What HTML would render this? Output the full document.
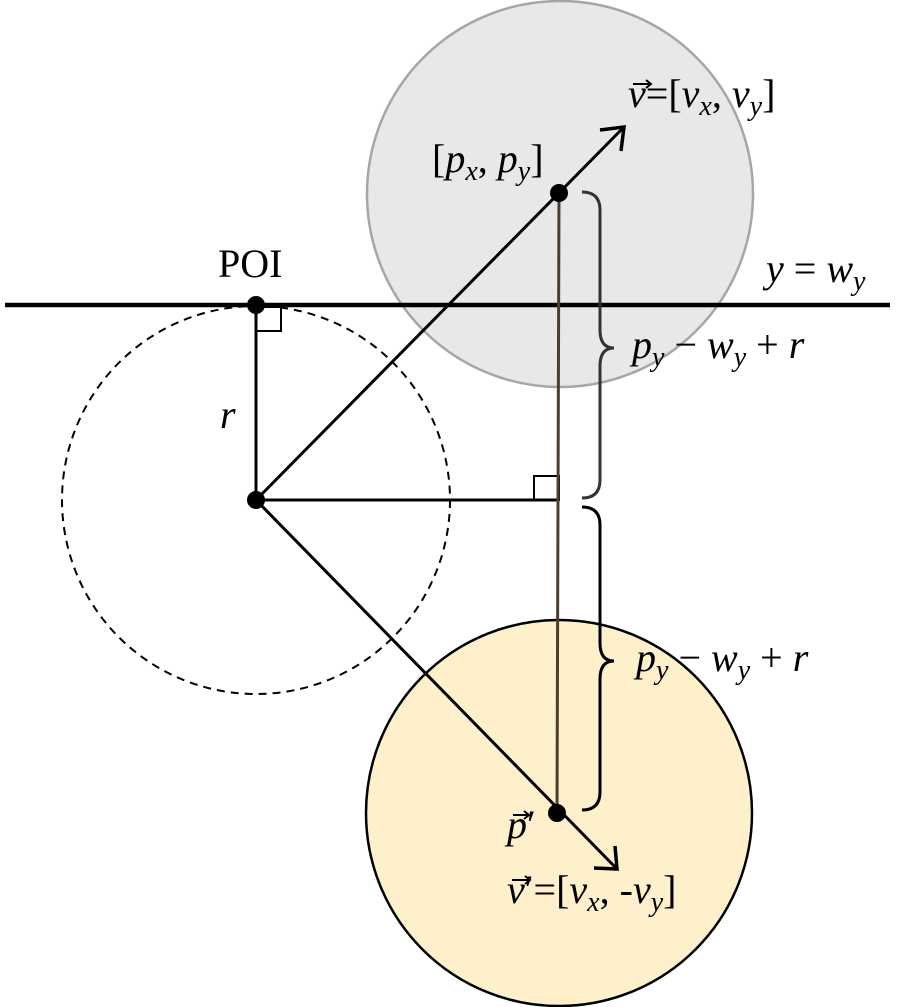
<!DOCTYPE html>
<html><head><meta charset="utf-8"><style>
html,body{margin:0;padding:0;background:#fff}
svg{display:block}
text{font-family:"Liberation Serif",serif;font-size:40px;fill:#000}
.i{font-style:italic}
</style></head><body>
<svg width="901" height="1007" viewBox="0 0 901 1007" xmlns="http://www.w3.org/2000/svg">
<circle cx="560" cy="194" r="193" fill="#e8e8e8" stroke="#a6a6a6" stroke-width="2.5"/>
<circle cx="559" cy="813" r="193" fill="#fdf0cb" stroke="#000" stroke-width="2.5"/>
<circle cx="256" cy="500" r="194" fill="none" stroke="#000" stroke-width="2" stroke-dasharray="8,6"/>
<line x1="5" y1="305" x2="890" y2="305" stroke="#000" stroke-width="4.5"/>
<line x1="256" y1="305" x2="256" y2="500" stroke="#000" stroke-width="3"/>
<rect x="256" y="307" width="25" height="24" fill="none" stroke="#000" stroke-width="2"/>
<line x1="256" y1="500" x2="559" y2="500" stroke="#000" stroke-width="3"/>
<rect x="534" y="476" width="25" height="24" fill="none" stroke="#000" stroke-width="2"/>
<line x1="559" y1="193" x2="557" y2="813" stroke="#4a3f2a" stroke-width="3"/>
<line x1="256" y1="500" x2="624" y2="127" stroke="#000" stroke-width="3"/>
<polyline points="600,130 624,127 621,151" fill="none" stroke="#000" stroke-width="3.5"/>
<line x1="256" y1="500" x2="617" y2="869" stroke="#000" stroke-width="3"/>
<polyline points="594,868 617,869 615,846" fill="none" stroke="#000" stroke-width="3.5"/>
<path d="M582,192 Q600,192 600,210 L600,330 Q600,348 614,348 Q600,348 600,366 L600,480 Q600,498 582,498" fill="none" stroke="#333" stroke-width="3"/>
<path d="M582,507 Q600,507 600,525 L600,643 Q600,661 614,661 Q600,661 600,679 L600,792 Q600,810 582,810" fill="none" stroke="#000" stroke-width="3"/>
<circle cx="256" cy="305" r="9" fill="#000"/>
<circle cx="256" cy="500" r="9" fill="#000"/>
<circle cx="559" cy="193" r="9" fill="#000"/>
<circle cx="557" cy="813" r="9" fill="#000"/>
<text x="218" y="277" font-size="36">POI</text>
<text x="220" y="428" class="i">r</text>
<text x="432" y="172"><tspan>[</tspan><tspan class="i">p</tspan><tspan class="i" font-size="28" dy="8">x</tspan><tspan dy="-8">, </tspan><tspan class="i">p</tspan><tspan class="i" font-size="28" dy="8">y</tspan><tspan dy="-8">]</tspan></text>
<text x="628" y="107"><tspan class="i">v</tspan><tspan>=[</tspan><tspan class="i">v</tspan><tspan class="i" font-size="28" dy="8">x</tspan><tspan dy="-8">, </tspan><tspan class="i">v</tspan><tspan class="i" font-size="28" dy="8">y</tspan><tspan dy="-8">]</tspan></text>
<path d="M633,84 L651,84 M646,80 L651,84 L646,88" fill="none" stroke="#000" stroke-width="2"/>
<text x="766" y="282"><tspan class="i">y</tspan><tspan> = </tspan><tspan class="i">w</tspan><tspan class="i" font-size="28" dy="8">y</tspan></text>
<text x="632" y="358"><tspan class="i">p</tspan><tspan class="i" font-size="28" dy="8">y</tspan><tspan dy="-8"> − </tspan><tspan class="i">w</tspan><tspan class="i" font-size="28" dy="8">y</tspan><tspan dy="-8"> + </tspan><tspan class="i">r</tspan></text>
<text x="636" y="671"><tspan class="i">p</tspan><tspan class="i" font-size="28" dy="8">y</tspan><tspan dy="-8"> − </tspan><tspan class="i">w</tspan><tspan class="i" font-size="28" dy="8">y</tspan><tspan dy="-8"> + </tspan><tspan class="i">r</tspan></text>
<text x="507" y="838"><tspan class="i">p</tspan><tspan>′</tspan></text>
<path d="M513,815 L529,815 M524,811 L529,815 L524,819" fill="none" stroke="#000" stroke-width="2"/>
<text x="507" y="903"><tspan class="i">v</tspan><tspan>′=[</tspan><tspan class="i">v</tspan><tspan class="i" font-size="28" dy="8">x</tspan><tspan dy="-8">, -</tspan><tspan class="i">v</tspan><tspan class="i" font-size="28" dy="8">y</tspan><tspan dy="-8">]</tspan></text>
<path d="M512,880 L530,880 M525,876 L530,880 L525,884" fill="none" stroke="#000" stroke-width="2"/>
</svg>
</body></html>
